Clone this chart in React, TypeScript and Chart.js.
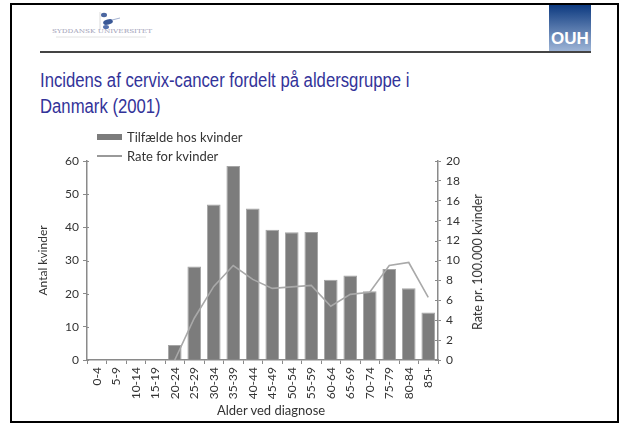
import React, { useEffect, useRef } from "react";
import { Chart, registerables } from "chart.js";

Chart.register(...registerables);

const ageGroups = ["0-4", "5-9", "10-14", "15-19", "20-24", "25-29", "30-34", "35-39", "40-44", "45-49", "50-54", "55-59", "60-64", "65-69", "70-74", "75-79", "80-84", "85+"];
const casesWomen = [0, 0, 0, 0, 4.5, 28.2, 46.9, 58.5, 45.7, 39.3, 38.5, 38.6, 24.2, 25.5, 20.7, 27.4, 21.6, 14.3];
const rateWomen = [null, null, null, null, 0, 4.2, 7.4, 9.5, 8.1, 7.2, 7.35, 7.5, 5.4, 6.6, 6.8, 9.5, 9.8, 6.3];
const leftAxis = { min: 0, max: 60, step: 10 };
const rightAxis = { min: 0, max: 20, step: 2 };

const FONT = "Lato, 'Open Sans', sans-serif";
const AXIS = "#8a8a8a";

const innerTicks = {
  id: "innerTicks",
  afterDraw(chart: any) {
    const ctx = chart.ctx;
    ctx.save();
    ctx.strokeStyle = AXIS;
    ctx.lineWidth = 1;
    const y = chart.scales.y;
    y.ticks.forEach((t: any) => {
      const p = Math.round(y.getPixelForValue(t.value)) + 0.5;
      ctx.beginPath();
      ctx.moveTo(y.right, p);
      ctx.lineTo(y.right + 2, p);
      ctx.stroke();
    });
    const r = chart.scales.y1;
    r.ticks.forEach((t: any) => {
      const p = Math.round(r.getPixelForValue(t.value)) + 0.5;
      ctx.beginPath();
      ctx.moveTo(r.left - 3, p);
      ctx.lineTo(r.left, p);
      ctx.stroke();
    });
    ctx.restore();
  },
};

function ChartCanvas() {
  const ref = useRef<HTMLCanvasElement | null>(null);
  useEffect(() => {
    if (!ref.current) return;
    const chart = new Chart(ref.current, {
      type: "bar",
      data: {
        labels: ageGroups,
        datasets: [
          {
            type: "line",
            label: "Rate for kvinder",
            data: rateWomen as any,
            yAxisID: "y1",
            borderColor: "#a9a9a9",
            borderWidth: 1.6,
            pointRadius: 0,
            tension: 0,
            fill: false,
            order: 0,
          },
          {
            type: "bar",
            label: "Tilfælde hos kvinder",
            data: casesWomen,
            yAxisID: "y",
            backgroundColor: "#7c7c7c",
            borderColor: "#a5a5a5",
            borderWidth: 1,
            barPercentage: 0.7,
            categoryPercentage: 1,
            order: 1,
          },
        ],
      },
      options: {
        responsive: false,
        animation: false,
        events: [],
        layout: { padding: { left: 30, right: 142, top: 161, bottom: 5 } },
        plugins: { legend: { display: false }, tooltip: { enabled: false } },
        scales: {
          x: {
            afterFit: (s: any) => { s.height = 60; },
            grid: { display: true, drawOnChartArea: false, drawTicks: true, tickLength: 4, color: AXIS, offset: true },
            border: { display: true, color: AXIS, width: 1.5 },
            ticks: { minRotation: 90, maxRotation: 90, autoSkip: false, padding: 3, color: "#333", font: { family: FONT, size: 12 } },
          },
          y: {
            position: "left",
            min: leftAxis.min,
            max: leftAxis.max,
            afterFit: (s: any) => { s.width = 57; },
            grid: { drawOnChartArea: false, drawTicks: true, tickLength: 4, color: AXIS },
            border: { display: true, color: AXIS, width: 1.5 },
            ticks: { stepSize: leftAxis.step, padding: 4, color: "#333", font: { family: FONT, size: 12 } },
            title: { display: true, text: "Antal kvinder", color: "#333", padding: { top: 6, bottom: 0 }, font: { family: FONT, size: 12 } },
          },
          y1: {
            position: "right",
            min: rightAxis.min,
            max: rightAxis.max,
            afterFit: (s: any) => { s.width = 40; },
            grid: { drawOnChartArea: false, drawTicks: true, tickLength: 3, color: AXIS },
            border: { display: true, color: AXIS, width: 1.5 },
            ticks: { stepSize: rightAxis.step, padding: 5, color: "#333", font: { family: FONT, size: 12 } },
          },
        },
      },
      plugins: [innerTicks],
    });
    return () => chart.destroy();
  }, []);
  return <canvas ref={ref} width={620} height={425} style={{ position: "absolute", left: 0, top: 0 }} />;
}

export default function App() {
  return (
    <div style={{ position: "fixed", left: 0, top: 0, width: 620, height: 425, background: "#fff", overflow: "hidden" }}>
      <div style={{ position: "absolute", left: 10, top: 3, width: 609, height: 420, border: "2px solid #000", boxSizing: "border-box" }} />
      <svg style={{ position: "absolute", left: 48, top: 10 }} width={110} height={30}>
        <line x1={52} y1={2} x2={52} y2={20} stroke="#dadada" strokeWidth={1} />
        <ellipse cx={56} cy={5} rx={3} ry={2.2} fill="#4a66a0" />
        <ellipse cx={60} cy={12} rx={5} ry={2.6} fill="#3a5896" transform="rotate(-15 60 12)" />
        <ellipse cx={58} cy={17} rx={3} ry={2} fill="#5571ad" />
        <line x1={64} y1={10} x2={72} y2={8} stroke="#a5b3d2" strokeWidth={1} />
        <text x={4} y={23} fontSize={5.5} fill="#a2a2b8" textLength={100} lengthAdjust="spacingAndGlyphs" fontFamily="'DejaVu Serif', serif">SYDDANSK UNIVERSITET</text>
        <line x1={8} y1={27} x2={98} y2={27} stroke="#e2e2e2" strokeWidth={1} />
      </svg>
      <div style={{ position: "absolute", left: 549, top: 5, width: 42, height: 46, background: "linear-gradient(#0d3a80, #9db4d6)" }}>
        <div style={{ position: "absolute", left: 0, width: 42, bottom: 3, textAlign: "center", color: "#fff", fontFamily: "'Liberation Sans', Arial, sans-serif", fontWeight: 700, fontSize: 17, lineHeight: "18px" }}>OUH</div>
      </div>
      <div style={{ position: "absolute", left: 40, top: 51, width: 551, height: 1.5, background: "#444" }} />
      <div style={{ position: "absolute", left: 40, top: 67, width: 620, color: "#333399", fontFamily: "'Liberation Sans', Arial, sans-serif", fontSize: 20, lineHeight: "26px", transform: "scaleX(0.835)", transformOrigin: "0 0", whiteSpace: "nowrap" }}>
        Incidens af cervix-cancer fordelt på aldersgruppe i<br />Danmark (2001)
      </div>
      <ChartCanvas />
      <div style={{ position: "absolute", left: 97, top: 134, width: 25, height: 6, background: "#7c7c7c" }} />
      <div style={{ position: "absolute", left: 127, top: 128, fontFamily: FONT, fontSize: 13, lineHeight: "18px", color: "#333", whiteSpace: "nowrap" }}>Tilfælde hos kvinder</div>
      <div style={{ position: "absolute", left: 97, top: 155, width: 25, height: 1.5, background: "#999" }} />
      <div style={{ position: "absolute", left: 127, top: 147, fontFamily: FONT, fontSize: 13, lineHeight: "18px", color: "#333", whiteSpace: "nowrap" }}>Rate for kvinder</div>
      <div style={{ position: "absolute", left: 217, top: 401, fontFamily: FONT, fontSize: 13, lineHeight: "18px", color: "#333", whiteSpace: "nowrap" }}>Alder ved diagnose</div>
      <div style={{ position: "absolute", left: 478, top: 262, width: 0, height: 0 }}>
        <div style={{ position: "absolute", left: 0, top: 0, transform: "translate(-50%, -50%) rotate(-90deg)", fontFamily: FONT, fontSize: 12.5, lineHeight: "16px", color: "#333", whiteSpace: "nowrap" }}>Rate pr. 100.000 kvinder</div>
      </div>
    </div>
  );
}
